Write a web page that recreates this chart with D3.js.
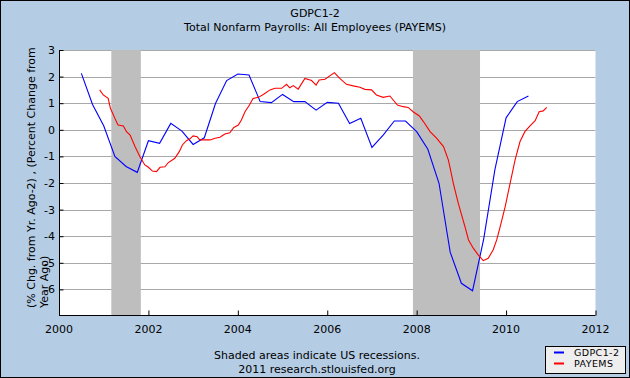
<!DOCTYPE html>
<html lang="en">
<head>
    <meta charset="UTF-8">
    <title>GDPC1-2 and PAYEMS</title>
    <script src="https://cdnjs.cloudflare.com/ajax/libs/d3/7.8.5/d3.js"></script>
    <style>
        body { margin: 0; background: #fff; }
        svg { display: block; font-family: "DejaVu Sans", sans-serif; }
    </style>
</head>
<body>
    <svg id="chart" width="630" height="378"></svg>

    <script>
        // GDPC1-2, quarterly (% change from year ago)
        const gdpDates = [
            2000.5, 2000.75, 2001.0, 2001.25, 2001.5, 2001.75, 2002.0, 2002.25, 2002.5, 2002.75,
            2003.0, 2003.25, 2003.5, 2003.75, 2004.0, 2004.25, 2004.5, 2004.75, 2005.0, 2005.25,
            2005.5, 2005.75, 2006.0, 2006.25, 2006.5, 2006.75, 2007.0, 2007.25, 2007.5, 2007.75,
            2008.0, 2008.25, 2008.5, 2008.75, 2009.0, 2009.25, 2009.5, 2009.75, 2010.0, 2010.25,
            2010.5
        ];
        const gdpValues = [
            2.12, 0.95, 0.15, -1.0, -1.38, -1.6, -0.41, -0.51, 0.24, -0.05,
            -0.55, -0.30, 0.99, 1.85, 2.10, 2.06, 1.06, 1.02, 1.33, 1.06,
            1.06, 0.74, 1.03, 1.0, 0.24, 0.43, -0.66, -0.20, 0.33, 0.33,
            -0.07, -0.73, -2.01, -4.6, -5.77, -6.05, -4.1, -1.5, 0.45, 1.06,
            1.27
        ];

        // PAYEMS (% change from year ago)
        const payDates = [
            2000.91, 2000.99, 2001.10, 2001.15, 2001.25, 2001.32, 2001.44, 2001.51, 2001.59, 2001.70,
            2001.81, 2001.92, 2002.00, 2002.09, 2002.18, 2002.26, 2002.37, 2002.44, 2002.59, 2002.69,
            2002.76, 2002.85, 2002.93, 2003.00, 2003.09, 2003.15, 2003.38, 2003.49, 2003.60, 2003.71,
            2003.82, 2003.91, 2004.01, 2004.08, 2004.16, 2004.26, 2004.34, 2004.46, 2004.57, 2004.72,
            2004.83, 2004.98, 2005.09, 2005.16, 2005.24, 2005.35, 2005.50, 2005.65, 2005.75, 2005.82,
            2005.95, 2006.16, 2006.28, 2006.43, 2006.58, 2006.73, 2006.84, 2006.99, 2007.10, 2007.25,
            2007.40, 2007.57, 2007.70, 2007.81, 2007.92, 2008.06, 2008.15, 2008.30, 2008.45, 2008.60,
            2008.71, 2008.75, 2008.82, 2008.93, 2009.08, 2009.16, 2009.27, 2009.38, 2009.49, 2009.60,
            2009.71, 2009.79, 2009.86, 2009.98, 2010.09, 2010.20, 2010.31, 2010.42, 2010.53, 2010.65,
            2010.74, 2010.83, 2010.91
        ];
        const payValues = [
            1.50, 1.31, 1.18, 0.81, 0.43, 0.18, 0.14, -0.07, -0.20, -0.63,
            -1.01, -1.32, -1.41, -1.55, -1.57, -1.41, -1.39, -1.24, -1.07, -0.82,
            -0.57, -0.41, -0.34, -0.23, -0.26, -0.38, -0.38, -0.32, -0.28, -0.16,
            -0.11, 0.09, 0.18, 0.37, 0.68, 0.93, 1.18, 1.22, 1.33, 1.50,
            1.56, 1.56, 1.71, 1.58, 1.66, 1.53, 1.93, 1.85, 1.68, 1.87,
            1.90, 2.15, 1.93, 1.71, 1.65, 1.60, 1.52, 1.50, 1.31, 1.22,
            1.27, 0.93, 0.87, 0.84, 0.68, 0.52, 0.31, -0.07, -0.32, -0.63,
            -1.14, -1.45, -2.01, -2.76, -3.64, -4.14, -4.46, -4.71, -4.92, -4.83,
            -4.52, -4.14, -3.70, -2.89, -2.01, -1.14, -0.45, -0.07, 0.14, 0.34,
            0.68, 0.71, 0.84
        ];

        const recessions = [[2001.17, 2001.83], [2007.917, 2009.417]];
        const xTicks = [2000, 2002, 2004, 2006, 2008, 2010, 2012];
        const yTicks = [3, 2, 1, 0, -1, -2, -3, -4, -5, -6];

        const svg = d3.select("#chart");
        const plotL = 59, plotR = 595.5, plotT = 50, plotB = 316;

        const x = d3.scaleLinear().domain([2000, 2012]).range([plotL, plotR]);
        const y = d3.scaleLinear().domain([-7, 3]).range([plotB, plotT]);

        // background + plot area
        svg.append("rect").attr("width", 630).attr("height", 378).attr("fill", "#b4cce4");
        svg.append("rect").attr("x", plotL).attr("y", plotT)
            .attr("width", plotR - plotL).attr("height", plotB - plotT).attr("fill", "#fff");

        // titles
        svg.append("text").attr("x", 315).attr("y", 17).attr("text-anchor", "middle")
            .attr("font-size", 11).text("GDPC1-2");
        svg.append("text").attr("x", 315).attr("y", 31).attr("text-anchor", "middle")
            .attr("font-size", 11).text("Total Nonfarm Payrolls: All Employees (PAYEMS)");

        // gridlines
        svg.append("g").selectAll("line").data(yTicks).enter().append("line")
            .attr("x1", plotL).attr("x2", plotR)
            .attr("y1", d => Math.round(y(d)) + 0.5).attr("y2", d => Math.round(y(d)) + 0.5)
            .attr("stroke", "#a8a8a8").attr("stroke-width", 1);

        // recession shading
        svg.append("g").selectAll("rect").data(recessions).enter().append("rect")
            .attr("x", d => x(d[0])).attr("width", d => x(d[1]) - x(d[0]))
            .attr("y", plotT).attr("height", plotB - plotT)
            .attr("fill", "#bebebe");

        // y axis
        const yAxis = svg.append("g").attr("transform", `translate(${plotL + 0.5},0)`)
            .call(d3.axisRight(y).tickValues(yTicks).tickSize(4).tickFormat(""));
        yAxis.select(".domain").remove();
        yAxis.selectAll("line").attr("stroke", "#000");
        svg.append("g").selectAll("text").data(yTicks).enter().append("text")
            .attr("x", 55).attr("y", d => y(d) + 4).attr("text-anchor", "end")
            .attr("font-size", 11).text(d => d);

        // x axis
        const xAxis = svg.append("g").attr("transform", `translate(0,${plotB - 0.5})`)
            .call(d3.axisTop(x).tickValues(xTicks).tickSize(5).tickFormat(""));
        xAxis.select(".domain").remove();
        xAxis.selectAll("line").attr("stroke", "#000");
        svg.append("g").selectAll("text").data(xTicks).enter().append("text")
            .attr("x", d => x(d)).attr("y", 333).attr("text-anchor", "middle")
            .attr("font-size", 11).text(d => d);

        svg.append("line").attr("x1", plotL + 0.5).attr("x2", plotL + 0.5)
            .attr("y1", plotT).attr("y2", plotB).attr("stroke", "#000");
        svg.append("line").attr("x1", plotL).attr("x2", plotR)
            .attr("y1", plotB - 0.5).attr("y2", plotB - 0.5).attr("stroke", "#000");

        // series
        const line = d3.line().x(d => x(d[0])).y(d => y(d[1]));
        svg.append("path").datum(d3.zip(gdpDates, gdpValues))
            .attr("d", line).attr("fill", "none").attr("stroke", "#0000ff").attr("stroke-width", 1.1);
        svg.append("path").datum(d3.zip(payDates, payValues))
            .attr("d", line).attr("fill", "none").attr("stroke", "#ff0000").attr("stroke-width", 1.1);

        // y axis label
        const yl = svg.append("g").attr("transform", "translate(0,308) rotate(-90)")
            .attr("font-size", 11);
        yl.append("text").attr("x", 0).attr("y", 35).text("(% Chg. from Yr. Ago-2) , (Percent Change from");
        yl.append("text").attr("x", 0).attr("y", 48).text("Year Ago)");

        // footer
        svg.append("text").attr("x", 317).attr("y", 359).attr("text-anchor", "middle")
            .attr("font-size", 11).text("Shaded areas indicate US recessions.");
        svg.append("text").attr("x", 317).attr("y", 373).attr("text-anchor", "middle")
            .attr("font-size", 11).text("2011 research.stlouisfed.org");

        // legend
        const legend = svg.append("g");
        legend.append("rect").attr("x", 545.5).attr("y", 346.5).attr("width", 80).attr("height", 27)
            .attr("fill", "#eeeeee").attr("stroke", "#000");
        const series = [["GDPC1-2", "#0000ff"], ["PAYEMS", "#ff0000"]];
        series.forEach((s, i) => {
            legend.append("line").attr("x1", 554).attr("x2", 564)
                .attr("y1", 352.5 + i * 11).attr("y2", 352.5 + i * 11)
                .attr("stroke", s[1]).attr("stroke-width", 2);
            legend.append("text").attr("x", 574).attr("y", 356 + i * 11)
                .attr("font-size", 9.5).attr("letter-spacing", 0.4).text(s[0]);
        });

        svg.append("rect").attr("x", 0.5).attr("y", 0.5).attr("width", 629).attr("height", 377)
            .attr("fill", "none").attr("stroke", "#000");
    </script>
</body>
</html>
